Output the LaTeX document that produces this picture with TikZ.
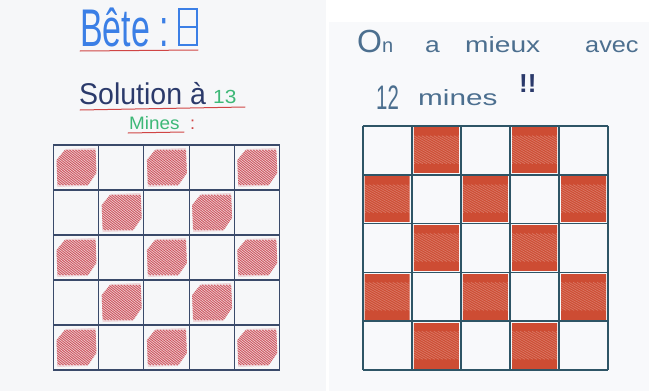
\documentclass[tikz,border=0pt]{standalone}
\usepackage{fontspec}
\setsansfont{Liberation Sans}
\definecolor{bgL}{HTML}{F6F7F9}
\definecolor{bgR}{HTML}{F8F9FB}
\definecolor{blueT}{HTML}{3B7FE6}
\definecolor{navyT}{HTML}{2B3A6B}
\definecolor{greenT}{HTML}{3DB877}
\definecolor{redU}{HTML}{D04545}
\definecolor{greyT}{HTML}{4C6F8F}
\definecolor{gridL}{HTML}{3A4A6A}
\definecolor{gridR}{HTML}{2E5566}
\definecolor{hatchL}{HTML}{C21F2A}
\definecolor{fillR}{HTML}{C93A1E}
\tikzset{
  hw/.style={inner sep=0pt, font=\sffamily},
  ul/.style={redU, line width=1pt, line cap=round},
  gridl/.style={gridL, line width=1.1pt},
  gridr/.style={gridR, line width=1.8pt},
}
\newcommand{\lblob}[2]{%
  \begin{scope}
    \clip (#1+3,#2+15) -- (#1+12,#2+4) -- (#1+42,#2+3) -- (#1+43,#2+28) -- (#1+34,#2+41) -- (#1+4,#2+42) -- cycle;
    \fill[hatchL, opacity=0.15] (#1,#2) rectangle (#1+45,#2+45);
    \foreach \k in {-44,-41,...,44} {
      \draw[hatchL, opacity=0.7, line width=0.9pt] (#1+\k,#2+5) -- (#1+\k+45,#2+40);
    }
  \end{scope}}
\newcommand{\rblob}[2]{%
  \begin{scope}
    \clip (#1+2,#2+2) rectangle (#1+47,#2+47);
    \fill[fillR, opacity=0.9] (#1,#2) rectangle (#1+49,#2+49);
    \foreach \k in {-46,-42,...,46} {
      \draw[white, opacity=0.25, line width=0.7pt] (#1+\k,#2+10) -- (#1+\k+49,#2+38);
    }
  \end{scope}}
\begin{document}
\begin{tikzpicture}[x=1pt,y=-1pt]
\useasboundingbox (0,0) rectangle (649,391);
\fill[white] (0,0) rectangle (649,391);
\fill[bgL] (0,0) rectangle (326,391);
\fill[bgR] (329,22) rectangle (649,391);
% ---- left titles
\node[hw, anchor=base west, text=blueT] (bete) at (80,46) {\scalebox{0.64}[1]{\fontsize{53}{53}\selectfont Bête :}};
\draw[blueT, line width=1.3pt] (179,9) rectangle (197,45);
\draw[blueT, line width=1.3pt] (179,27) -- (197,27);
\coordinate (u1a) at (80,51);
\coordinate (u1b) at (198,50);
\draw[ul] (u1a) -- (u1b);
\node[hw, anchor=base west, text=navyT] (sol) at (79,104) {\scalebox{0.95}[1]{\fontsize{30}{30}\selectfont Solution à}};
\node[hw, anchor=base west, text=greenT] (n13) at (213,103) {\scalebox{1.1}[1]{\fontsize{19}{19}\selectfont 13}};
\coordinate (u2a) at (80,110);
\coordinate (u2b) at (245,107);
\draw[ul] (u2a) -- (u2b);
\node[hw, anchor=base west, text=greenT] (mines) at (129,129) {\scalebox{1.05}[1]{\fontsize{18}{18}\selectfont Mines}};
\node[hw, anchor=base west, text=redU] (col) at (190,129) {\fontsize{18}{18}\selectfont :};
\coordinate (u3a) at (128,133);
\coordinate (u3b) at (184,132);
\draw[ul] (u3a) -- (u3b);
% ---- left grid
\foreach \r in {0,...,4} {
  \foreach \c in {0,...,4} {
    \pgfmathtruncatemacro{\pty}{mod(\r+\c,2)}
    \ifnum\pty=0
      \pgfmathsetmacro{\xx}{53.5+45.2*\c}
      \pgfmathsetmacro{\yy}{145+45*\r}
      \lblob{\xx}{\yy}
    \fi
  }
}
\foreach \i in {0,...,5} {
  \draw[gridl] (53.5+45.2*\i,145) -- (53.5+45.2*\i,370);
  \draw[gridl] (53,145+45*\i) -- (280,145+45*\i);
}
% ---- right titles
\node[hw, anchor=base west, text=greyT] (on) at (357,52) {\fontsize{32}{32}\selectfont O\fontsize{20}{20}\selectfont n};
\node[hw, anchor=base west, text=greyT] (a) at (425,52) {\scalebox{1.2}[1]{\fontsize{22}{22}\selectfont a}};
\node[hw, anchor=base west, text=greyT] (mieux) at (465,52) {\scalebox{1.28}[1]{\fontsize{22}{22}\selectfont mieux}};
\node[hw, anchor=base west, text=greyT] (avec) at (585,52) {\scalebox{1.15}[1]{\fontsize{22}{22}\selectfont avec}};
\node[hw, anchor=base west, text=greyT] (twelve) at (376,109) {\scalebox{0.6}[1]{\fontsize{34}{34}\selectfont 12}};
\node[hw, anchor=base west, text=greyT] (mines2) at (418,105) {\scalebox{1.35}[1]{\fontsize{22}{22}\selectfont mines}};
\node[hw, anchor=base west, text=navyT] (bang) at (519,92) {\fontsize{26}{26}\selectfont\bfseries !!};
% ---- right grid
\foreach \r in {0,...,4} {
  \foreach \c in {0,...,4} {
    \pgfmathtruncatemacro{\pty}{mod(\r+\c,2)}
    \ifnum\pty=1
      \pgfmathsetmacro{\xx}{362.7+49.1*\c}
      \pgfmathsetmacro{\yy}{125.7+48.9*\r}
      \rblob{\xx}{\yy}
    \fi
  }
}
\foreach \i in {0,...,5} {
  \draw[gridr] (362.7+49.1*\i,125.7) -- (362.7+49.1*\i,370.2);
  \draw[gridr] (362.7,125.7+48.9*\i) -- (608.2,125.7+48.9*\i);
}
\end{tikzpicture}
\end{document}
